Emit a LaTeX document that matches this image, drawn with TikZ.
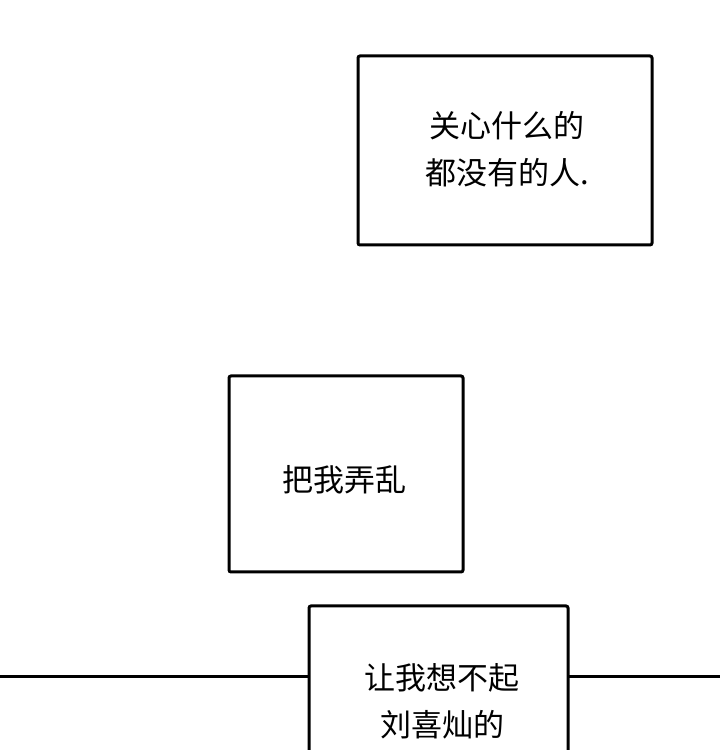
\documentclass[tikz,border=0pt]{standalone}
\usepackage{fontspec}
\newfontfamily\cjk{Noto Sans CJK SC}
\tikzset{
  panel/.style={draw=black, line width=3pt, rounded corners=2pt, fill=white},
  caption/.style={align=center, font=\cjk\fontsize{31}{47}\selectfont}
}
\begin{document}
\begin{tikzpicture}[x=1pt,y=1pt]
\clip (0,0) rectangle (720,750);
\fill[white] (0,0) rectangle (720,750);
% boxes
\draw[panel] (358,505) rectangle (652,694);
\draw[panel] (229,178) rectangle (463,374);
\coordinate (lineL) at (0,73);
\coordinate (lineR) at (720,73);
\draw[panel] (309,-20) rectangle (568,144);
\node (boxA) at (309,73) {};
\node (boxB) at (568,73) {};
\draw[line width=3pt] (lineL) -- (309,73);
\draw[line width=3pt] (568,73) -- (lineR);
% texts
\node (capA) [caption] at (507,601) {关心什么的\\都没有的人.};
\node (capB) [caption] at (344,270) {把我弄乱};
\node (capC) [caption] at (442,49) {让我想不起\\刘喜灿的};
\end{tikzpicture}
\end{document}
